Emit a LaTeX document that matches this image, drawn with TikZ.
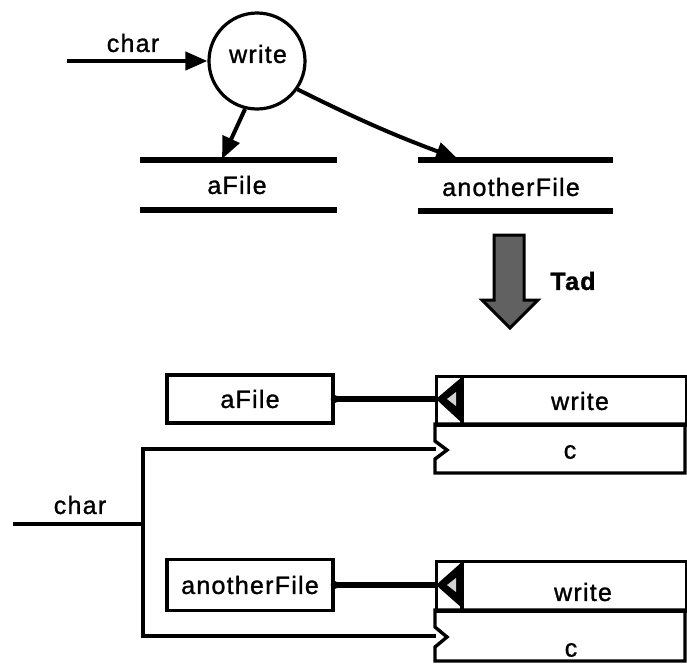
\documentclass[tikz,border=0pt]{standalone}
\usepackage{fontspec}
\setmainfont{Liberation Sans}[LetterSpace=5, FakeBold=1.2]
\usetikzlibrary{arrows.meta}

\begin{document}
\begin{tikzpicture}[x=1pt,y=-1pt,
  every node/.style={font=\fontsize{25}{30}\selectfont, inner sep=0pt},
  process/.style={circle, draw, line width=3.2pt, minimum size=96pt},
  storeline/.style={line width=5.5pt},
  flow/.style={line width=4pt, -{Triangle[length=22pt,width=18pt]}},
  wire/.style={line width=3.4pt},
  frame/.style={draw, line width=3.4pt},
  edge/.style={line width=3.4pt},
  bind/.style={line width=6.5pt},
  shaded/.style={draw, line width=3pt, fill=black!62}
]
\useasboundingbox (0,0) rectangle (687,664);

% ---- data flow diagram ----
\node[process] (wr) at (257,61) {};
\node (wrtext) at (258,54) {write};
\coordinate (cin) at (67,61);
\node (chartop) at (133,43) {char};
\draw[flow] (cin) -- (wr.west);

% data stores
\coordinate (afTL) at (140,160); \coordinate (afTR) at (337,160);
\coordinate (afBL) at (140,210); \coordinate (afBR) at (337,210);
\draw[storeline] (afTL) -- (afTR);
\draw[storeline] (afBL) -- (afBR);
\node (aftext) at (237,185) {aFile};

\coordinate (anTL) at (418,160); \coordinate (anTR) at (613,160);
\coordinate (anBL) at (418,211); \coordinate (anBR) at (613,211);
\draw[storeline] (anTL) -- (anTR);
\draw[storeline] (anBL) -- (anBR);
\node (antext) at (511,187) {anotherFile};

\coordinate (afin) at (222,159);
\coordinate (anin) at (458,159);
\draw[flow] (wr.256) -- (afin);
\draw[flow] (wr.325) to[bend right=3] (anin);

% transformation arrow
\draw[shaded] (494,235) -- (524,235) -- (524,300) -- (538,300) -- (510,328)
  -- (482,300) -- (494,300) -- cycle;
\node[font=\bfseries\fontsize{25}{30}\selectfont] (tad) at (573,281) {Tad};

% ---- module diagram ----
% first group
\node[frame, minimum width=166pt, minimum height=48pt] (bf1) at (250,399) {aFile};
\node[frame, anchor=north west, minimum width=250pt, minimum height=49pt] (w1) at (435,375) {};
\draw[edge] (462,375) -- (462,424);
\fill (462,377) -- (436,399) -- (462,423) -- cycle;
\fill[gray!35] (456,392) -- (447,399) -- (456,406) -- cycle;
\node (w1text) at (580,401) {write};
\coordinate (t1) at (437,399);
\draw[edge] (435,424) -- (685,424) -- (685,473) -- (435,473) -- (435,459)
  -- (447,450) -- (435,441) -- cycle;
\coordinate (p1) at (436,449);
\node (c1) at (570,452) {c};
\draw[bind] (bf1.east) -- (t1);
\fill (bf1.east) circle (4pt);

% second group
\node[frame, minimum width=166pt, minimum height=51pt] (bf2) at (250,585) {anotherFile};
\node[frame, anchor=north west, minimum width=250pt, minimum height=50pt] (w2) at (435,560) {};
\draw[edge] (462,560) -- (462,610);
\fill (462,562) -- (436,585) -- (462,608) -- cycle;
\fill[gray!35] (456,578) -- (447,585) -- (456,592) -- cycle;
\node (w2text) at (583,592) {write};
\coordinate (t2) at (437,585);
\draw[edge] (435,610) -- (685,610) -- (685,661) -- (435,661) -- (435,647)
  -- (447,637) -- (435,627) -- cycle;
\coordinate (p2) at (436,636);
\node (c2) at (571,650) {c};
\draw[bind] (bf2.east) -- (t2);
\fill (bf2.east) circle (4pt);

% shared input
\coordinate (cin2) at (13,524);
\coordinate (jmid) at (143,524);
\coordinate (jtop) at (143,449);
\coordinate (jbot) at (143,636);
\node (charbot) at (80,505) {char};
\draw[wire] (cin2) -- (jmid);
\draw[wire] (p1) -- (jtop) -- (jbot) -- (p2);
\end{tikzpicture}
\end{document}
